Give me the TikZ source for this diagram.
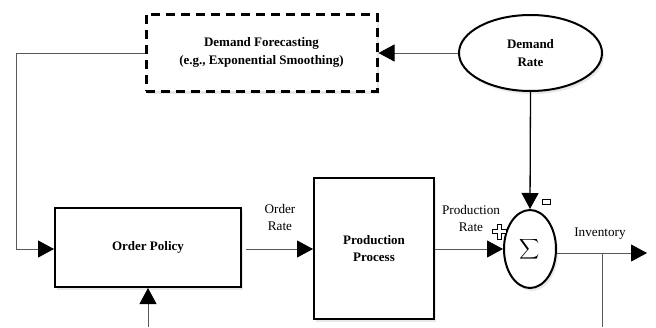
\documentclass[tikz,border=0pt]{standalone}
\usepackage{fontspec}
\setmainfont{Liberation Serif}
\usetikzlibrary{arrows.meta,shapes.geometric,shadows,calc}
\begin{document}
\begin{tikzpicture}[x=1pt,y=-1pt,
  txt/.style={font=\fontsize{13.2}{17}\selectfont,align=center},
  btxt/.style={font=\fontsize{13}{17.5}\selectfont\bfseries,align=center},
  shd/.style={drop shadow={opacity=0.18,shadow xshift=2pt,shadow yshift=-3pt}},
  blockbox/.style={draw=black,line width=2pt,fill=white,rectangle,shd,btxt},
  dashbox/.style={draw=black,line width=3pt,dash pattern=on 9pt off 6pt,fill=white,rectangle,shd,btxt},
  ellbox/.style={draw=black,line width=2pt,fill=white,ellipse,shd,btxt,inner sep=0pt},
  conn/.style={draw=black!65,line width=0.8pt,-{Triangle[length=16pt,width=17pt,color=black]}},
  plainconn/.style={draw=black!65,line width=0.8pt},
  blackconn/.style={draw=black,line width=1.3pt,-{Triangle[length=16pt,width=17pt,color=black]}}
]
\useasboundingbox (0,0) rectangle (656,327);
\fill[white] (0,0) rectangle (656,327);

% nodes
\node[dashbox,minimum width=231,minimum height=77] (fc) at (261.5,52.5) {Demand Forecasting\\(e.g., Exponential Smoothing)};
\node[ellbox,minimum width=143,minimum height=76] (dr) at (530.5,53) {Demand\\Rate};
\node[blockbox,minimum width=186,minimum height=79] (op) at (148,247.5) {Order Policy};
\node[blockbox,minimum width=120,minimum height=141] (pp) at (374,248.5) {Production\\Process};
\node[ellbox,font=\fontsize{13}{17}\selectfont,minimum width=52,minimum height=78] (sum) at (530,249) {\scalebox{1.4}{$\displaystyle\sum$}};

% coordinates
\coordinate (fbl1) at (16,53);
\coordinate (fbl2) at (16,249);
\coordinate (opin) at (148,327);
\coordinate (inv) at (647,253);
\coordinate (invtap) at (602,253);
\coordinate (invdown) at (602,327);

% connectors
\draw[conn] (dr.west) -- (fc.east |- dr.west);
\draw[conn] (fc.west |- fbl1) -- (fbl1) -- (fbl2) -- (op.west |- fbl2);
\draw[conn] (opin) -- (op.south);
\draw[conn] ($(op.east |- fbl2)+(4,0)$) -- (pp.west |- fbl2);
\draw[conn] (pp.east |- fbl2) -- (sum.west |- fbl2);
\draw[blackconn] (dr.south) -- (sum.north);
\draw[conn] (sum.east |- inv) -- (inv);
\draw[plainconn] (invtap) -- (invdown);

% labels
\node[txt] (lor) at (280,217.5) {Order\\Rate};
\node[txt] (lpr) at (471,218) {Production\\Rate};
\node[txt] (linv) at (600,234) {Inventory};

% signs
\draw[black,line width=0.6pt,fill=white] (497,224) -- (501,224) -- (501,229) -- (506,229) -- (506,233) -- (501,233) -- (501,239) -- (497,239) -- (497,233) -- (492,233) -- (492,229) -- (497,229) -- cycle;
\draw[black,line width=0.7pt,fill=white] (542,199.5) rectangle (550,204.5);
\end{tikzpicture}
\end{document}
